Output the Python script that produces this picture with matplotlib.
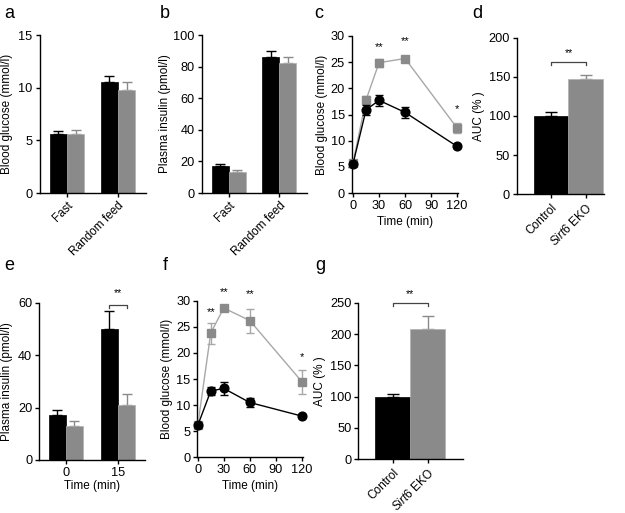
import matplotlib
matplotlib.use('Agg')
import matplotlib.pyplot as plt

plt.rcParams['font.family'] = 'Liberation Sans'
plt.rcParams['font.size'] = 8.5
plt.rcParams['xtick.labelsize'] = 9.2
plt.rcParams['ytick.labelsize'] = 9.2
plt.rcParams['mathtext.fontset'] = 'custom'
plt.rcParams['mathtext.rm'] = 'Liberation Sans'
plt.rcParams['mathtext.it'] = 'Liberation Sans:italic'
plt.rcParams['axes.linewidth'] = 1.0
plt.rcParams['xtick.major.size'] = 3
plt.rcParams['ytick.major.size'] = 3
plt.rcParams['xtick.major.width'] = 1.0
plt.rcParams['ytick.major.width'] = 1.0
plt.rcParams['xtick.major.pad'] = 2
plt.rcParams['ytick.major.pad'] = 2

BLACK = '#000000'
GRAY = '#8a8a8a'
LGRAY = '#a8a8a8'
ROT_SIZE = 8.5

# panel a - blood glucose
a_cats = ['Fast', 'Random feed']
a_ctrl = [5.6, 10.5]
a_ctrl_err = [0.3, 0.6]
a_ko = [5.6, 9.8]
a_ko_err = [0.4, 0.7]

# panel b - plasma insulin
b_cats = ['Fast', 'Random feed']
b_ctrl = [17.0, 86.0]
b_ctrl_err = [1.3, 3.6]
b_ko = [13.0, 82.5]
b_ko_err = [1.5, 3.8]

# panel c - GTT
c_time = [0, 15, 30, 60, 120]
c_ctrl = [5.6, 15.9, 17.7, 15.4, 8.9]
c_ctrl_err = [0.3, 1.0, 1.0, 1.0, 0.3]
c_ko = [5.8, 17.8, 24.9, 25.7, 12.4]
c_ko_err = [0.4, 0.8, 0.8, 0.4, 1.0]
c_stars = [(30, 27.8, '**'), (60, 29.0, '**'), (120, 16.0, '*')]

# panel d - AUC
d_cats = ['Control', '$\\it{Sirt6}$ EKO']
d_vals = [100, 147]
d_err = [5, 6]

# panel e - insulin during GTT
e_cats = ['0', '15']
e_ctrl = [17.0, 49.8]
e_ctrl_err = [2.0, 7.0]
e_ko = [13.0, 21.0]
e_ko_err = [2.0, 4.0]

# panel f - GTT
f_time = [0, 15, 30, 60, 120]
f_ctrl = [6.1, 12.7, 13.2, 10.5, 7.9]
f_ctrl_err = [0.3, 0.8, 1.3, 0.9, 0.3]
f_ko = [6.1, 23.8, 28.6, 26.2, 14.5]
f_ko_err = [0.3, 2.0, 0.5, 2.3, 2.3]
f_stars = [(15, 27.9, '**'), (30, 31.6, '**'), (60, 31.3, '**'), (120, 19.2, '*')]

# panel g - AUC
g_cats = ['Control', '$\\it{Sirt6}$ EKO']
g_vals = [100, 208]
g_err = [4, 21]

W, H = 625, 513
fig = plt.figure(figsize=(W / 100, H / 100), dpi=100)


def make_ax(left, right, top, bottom):
    ax = fig.add_axes([left / W, 1 - bottom / H, (right - left) / W, (bottom - top) / H])
    ax.spines['top'].set_visible(False)
    ax.spines['right'].set_visible(False)
    return ax


def grouped_bars(ax, ctrl, ctrl_err, ko, ko_err, width):
    xs = list(range(len(ctrl)))
    xc = [x - width / 2 for x in xs]
    xk = [x + width / 2 for x in xs]
    ax.bar(xc, ctrl, width, color=BLACK, edgecolor=BLACK, linewidth=0.5, zorder=2)
    ax.bar(xk, ko, width, color=GRAY, edgecolor='#b0b0b0', linewidth=0.5, zorder=2)
    ax.errorbar(xc, ctrl, yerr=[[0] * len(ctrl), ctrl_err], fmt='none', ecolor=BLACK,
                elinewidth=1, capsize=3.5, capthick=1, zorder=1)
    ax.errorbar(xk, ko, yerr=[[0] * len(ko), ko_err], fmt='none', ecolor=GRAY,
                elinewidth=1, capsize=3.5, capthick=1, zorder=1)
    ax.set_xticks(xs)


def line_panel(ax, t, ctrl, ctrl_err, ko, ko_err, stars):
    ax.errorbar(t, ko, yerr=ko_err, color=LGRAY, ecolor=LGRAY, elinewidth=1, capsize=3,
                capthick=1, lw=1, marker='s', ms=6.3, mfc=GRAY, mec=GRAY, clip_on=False, zorder=3)
    ax.errorbar(t, ctrl, yerr=ctrl_err, color=BLACK, ecolor=BLACK, elinewidth=1, capsize=3,
                capthick=1, lw=1, marker='o', ms=6.3, mfc=BLACK, mec=BLACK, clip_on=False, zorder=4)
    for x, y, s in stars:
        ax.text(x, y, s, ha='center', va='center', fontsize=8)
    ax.set_xticks([0, 30, 60, 90, 120])
    ax.set_ylim(0, 30)
    ax.set_yticks(range(0, 31, 5))
    ax.set_xlabel('Time (min)', labelpad=3)
    ax.set_ylabel('Blood glucose (mmol/l)', labelpad=2)


def bracket(ax, x0, x1, y, drop, label, star_y):
    ax.plot([x0, x0, x1, x1], [y - drop, y, y, y - drop], color='#444444', lw=0.9, clip_on=False)
    ax.text((x0 + x1) / 2, star_y, label, ha='center', va='center', fontsize=7.5)


def two_bars(ax, vals, err):
    ax.bar([0, 1], vals, 1.0, color=[BLACK, GRAY], edgecolor=[BLACK, '#b0b0b0'], linewidth=0.5, zorder=2)
    ax.errorbar([0], [vals[0]], yerr=[[0], [err[0]]], fmt='none', ecolor=BLACK,
                elinewidth=1, capsize=4, capthick=1, zorder=1)
    ax.errorbar([1], [vals[1]], yerr=[[0], [err[1]]], fmt='none', ecolor=GRAY,
                elinewidth=1, capsize=4, capthick=1, zorder=1)
    ax.set_xticks([0, 1])


# a
ax = make_ax(39.5, 146, 35, 193)
grouped_bars(ax, a_ctrl, a_ctrl_err, a_ko, a_ko_err, 0.34)
ax.set_xlim(-0.54, 1.55)
ax.set_ylim(0, 15)
ax.set_yticks([0, 5, 10, 15])
ax.set_xticklabels(a_cats, rotation=45, ha='right', rotation_mode='anchor', fontsize=ROT_SIZE)
ax.set_ylabel('Blood glucose (mmol/l)', labelpad=4)

# b
ax = make_ax(201.7, 307, 35, 193)
grouped_bars(ax, b_ctrl, b_ctrl_err, b_ko, b_ko_err, 0.34)
ax.set_xlim(-0.54, 1.55)
ax.set_ylim(0, 100)
ax.set_yticks(range(0, 101, 20))
ax.set_xticklabels(b_cats, rotation=45, ha='right', rotation_mode='anchor', fontsize=ROT_SIZE)
ax.set_ylabel('Plasma insulin (pmol/l)', labelpad=2)

# c
ax = make_ax(352, 458, 36, 193)
line_panel(ax, c_time, c_ctrl, c_ctrl_err, c_ko, c_ko_err, c_stars)
ax.set_xlim(-1.2, 121)

# d
ax = make_ax(517, 604, 37.7, 194.3)
two_bars(ax, d_vals, d_err)
ax.set_xlim(-0.99, 1.53)
ax.set_ylim(0, 200)
ax.set_yticks(range(0, 201, 50))
ax.set_xticklabels(d_cats, rotation=45, ha='right', rotation_mode='anchor', fontsize=ROT_SIZE)
ax.set_ylabel('AUC (% )', labelpad=3)
bracket(ax, 0, 1, 169, 4, '**', 180)

# e
ax = make_ax(39.3, 145, 302.7, 460)
grouped_bars(ax, e_ctrl, e_ctrl_err, e_ko, e_ko_err, 0.33)
ax.set_xlim(-0.51, 1.52)
ax.set_ylim(0, 60)
ax.set_yticks([0, 20, 40, 60])
ax.set_xticklabels(e_cats)
ax.set_xlabel('Time (min)', labelpad=1)
ax.set_ylabel('Plasma insulin (pmol/l)', labelpad=4)
bracket(ax, 1 - 0.165, 1 + 0.165, 59.3, 1.3, '**', 63.5)

# f
ax = make_ax(197.3, 302.5, 300.7, 457.3)
line_panel(ax, f_time, f_ctrl, f_ctrl_err, f_ko, f_ko_err, f_stars)
ax.set_xlim(-0.5, 120.8)

# g
ax = make_ax(358.3, 463, 302.7, 459.3)
two_bars(ax, g_vals, g_err)
ax.set_xlim(-0.98, 2.0)
ax.set_ylim(0, 250)
ax.set_yticks(range(0, 251, 50))
ax.set_xticklabels(g_cats, rotation=45, ha='right', rotation_mode='anchor', fontsize=ROT_SIZE)
ax.set_ylabel('AUC (% )', labelpad=3)
bracket(ax, 0, 1, 250, 6, '**', 264)

# panel letters
for lab, x, y in [('a', 4, 18), ('b', 160, 18), ('c', 314, 18), ('d', 472, 18),
                  ('e', 4, 270), ('f', 163, 270), ('g', 315, 270)]:
    fig.text(x / W, 1 - y / H, lab, fontsize=13, ha='left', va='baseline')

fig.savefig('out.png', dpi=100)
